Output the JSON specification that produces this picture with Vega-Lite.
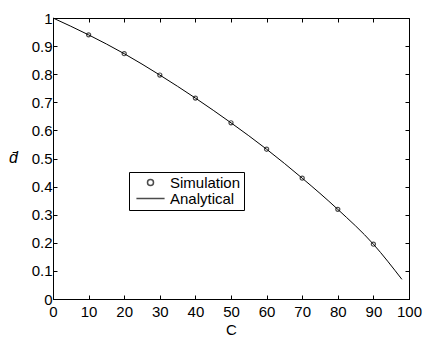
{
  "$schema": "https://vega.github.io/schema/vega-lite/v6.json",
  "width": 356,
  "height": 281,
  "autosize": {"type": "none"},
  "padding": {"left": 53, "top": 18, "right": 15, "bottom": 38},
  "background": "white",
  "config": {
    "font": "Liberation Sans",
    "view": {"stroke": "black", "strokeWidth": 1},
    "axis": {
      "domainColor": "black",
      "tickColor": "black",
      "labelColor": "black",
      "titleColor": "black",
      "labelFontSize": 15,
      "titleFontSize": 15,
      "titleFontWeight": "normal",
      "tickSize": -4,
      "grid": false,
      "labelOverlap": false,
      "labelBound": false,
      "labelFlush": false
    },
    "legend": {
      "labelFont": "Liberation Sans",
      "labelFontSize": 15,
      "labelColor": "black"
    }
  },
  "datasets": {
    "sim": [
      {"C": 10, "d": 0.940, "series": "Simulation"},
      {"C": 20, "d": 0.873, "series": "Simulation"},
      {"C": 30, "d": 0.797, "series": "Simulation"},
      {"C": 40, "d": 0.715, "series": "Simulation"},
      {"C": 50, "d": 0.627, "series": "Simulation"},
      {"C": 60, "d": 0.533, "series": "Simulation"},
      {"C": 70, "d": 0.430, "series": "Simulation"},
      {"C": 80, "d": 0.319, "series": "Simulation"},
      {"C": 90, "d": 0.195, "series": "Simulation"}
    ],
    "ana": [
      {"C": 0, "d": 1.0, "series": "Analytical"},
      {"C": 10, "d": 0.940, "series": "Analytical"},
      {"C": 20, "d": 0.873, "series": "Analytical"},
      {"C": 30, "d": 0.797, "series": "Analytical"},
      {"C": 40, "d": 0.715, "series": "Analytical"},
      {"C": 50, "d": 0.627, "series": "Analytical"},
      {"C": 60, "d": 0.533, "series": "Analytical"},
      {"C": 70, "d": 0.430, "series": "Analytical"},
      {"C": 80, "d": 0.319, "series": "Analytical"},
      {"C": 90, "d": 0.195, "series": "Analytical"},
      {"C": 98, "d": 0.070, "series": "Analytical"}
    ]
  },
  "layer": [
    {
      "data": {"name": "ana"},
      "mark": {"type": "line", "color": "black", "strokeWidth": 1, "interpolate": "monotone"},
      "encoding": {
        "x": {"field": "C", "type": "quantitative", "scale": {"domain": [0, 100], "nice": false},
          "axis": {"title": "C", "format": "d", "values": [0,10,20,30,40,50,60,70,80,90,100], "labelPadding": 9, "titleX": 178, "titleY": 30, "titleBaseline": "middle", "titleAlign": "center"}},
        "y": {"field": "d", "type": "quantitative", "scale": {"domain": [0, 1], "nice": false},
          "axis": {"title": "d\u0304", "format": "~r", "titleAngle": 0, "titleFontStyle": "italic", "titleFontSize": 16, "titleX": -40, "titleY": 139, "titleAlign": "center", "titleBaseline": "middle", "values": [0,0.1,0.2,0.3,0.4,0.5,0.6,0.7,0.8,0.9,1], "labelPadding": 5}}
      }
    },
    {
      "data": {"name": "sim"},
      "mark": {"type": "point", "filled": false, "color": "black", "strokeWidth": 1.2, "size": 70},
      "encoding": {
        "x": {"field": "C", "type": "quantitative", "axis": {"orient": "top", "labels": false, "title": null, "domain": false, "values": [0,10,20,30,40,50,60,70,80,90,100]}},
        "y": {"field": "d", "type": "quantitative", "axis": {"orient": "right", "labels": false, "title": null, "domain": false, "values": [0,0.1,0.2,0.3,0.4,0.5,0.6,0.7,0.8,0.9,1]}},
        "shape": {"field": "series", "type": "nominal",
          "scale": {"domain": ["Simulation", "Analytical"], "range": ["M-0.49,0A0.49,0.49 0 1,0 0.49,0A0.49,0.49 0 1,0 -0.49,0", "M-2.3,0H2.3"]},
          "legend": {"title": null, "orient": "none", "legendX": 76, "legendY": 154, "strokeColor": "black", "fillColor": "white", "padding": 3, "symbolSize": 150, "symbolOffset": 11, "labelOffset": 12, "rowPadding": 0,
            "encode": {"symbols": {"update": {"fill": {"value": "transparent"}, "stroke": {"value": "black"}, "strokeWidth": {"value": 1}, "opacity": {"value": 1}}}}}}
      }
    }
  ],
  "resolve": {"axis": {"x": "independent", "y": "independent"}}
}
